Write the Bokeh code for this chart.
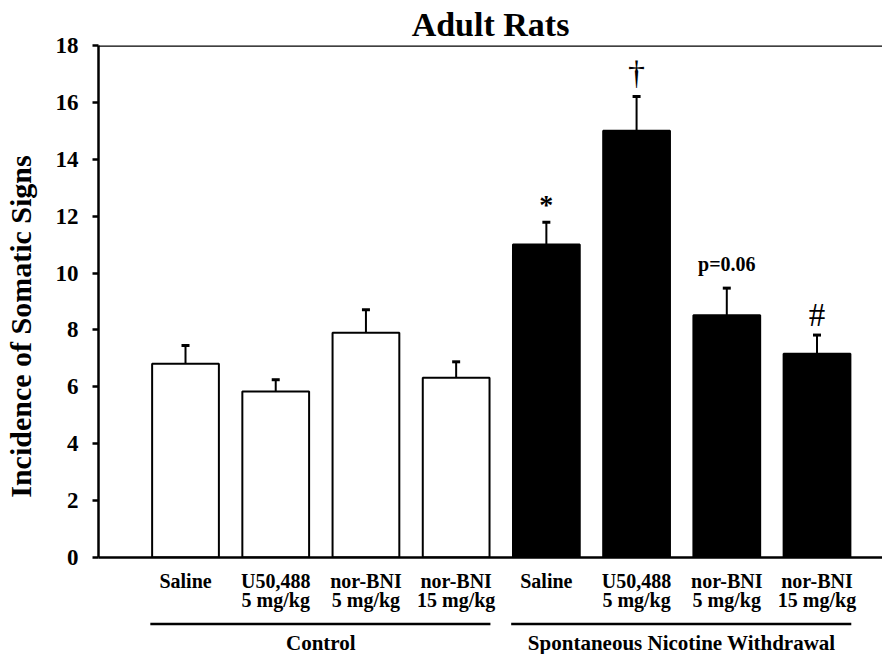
import math
from bokeh.plotting import figure
from bokeh.layouts import column, row
from bokeh.models import Range1d, FixedTicker, Whisker, TeeHead, Span, ColumnDataSource
from bokeh.core.properties import value
from bokeh.embed import file_html
from bokeh.resources import INLINE

# ---------------- data ----------------
categories = ["Saline", "U50,488\n5 mg/kg", "nor-BNI\n5 mg/kg", "nor-BNI\n15 mg/kg",
              "Saline", "U50,488\n5 mg/kg", "nor-BNI\n5 mg/kg", "nor-BNI\n15 mg/kg"]
means = [6.81, 5.84, 7.90, 6.32, 11.00, 15.00, 8.52, 7.16]
sems = [0.64, 0.41, 0.81, 0.56, 0.79, 1.21, 0.95, 0.66]
group_of = [0, 0, 0, 0, 1, 1, 1, 1]
groups = ["Control", "Spontaneous Nicotine Withdrawal"]
marks = ["", "", "", "", "*", "\u2020", "p=0.06", "#"]
y_ticks = [0, 2, 4, 6, 8, 10, 12, 14, 16, 18]
title_text = "Adult Rats"
y_label_text = "Incidence of Somatic Signs"

FONT = "Liberation Serif"
xs = list(range(1, len(means) + 1))
fills = ["white" if g == 0 else "black" for g in group_of]
uppers = [m + s for m, s in zip(means, sems)]

y_range = Range1d(0, 18)
x_range = Range1d(0.0355, 8.726)

MAIN_W, MAIN_H, STRIP_H, YLAB_W = 832, 616, 38, 50
TOP, BOTTOM, LEFT = 45, 59, 48

# ---------------- main plot ----------------
p = figure(width=MAIN_W, height=MAIN_H, x_range=x_range, y_range=y_range,
           output_backend="svg", toolbar_location=None,
           min_border_left=LEFT, min_border_right=0, min_border_top=TOP,
           min_border_bottom=BOTTOM)
p.outline_line_color = None
p.xgrid.visible = False
p.ygrid.visible = False

p.title.text = title_text
p.title.text_font = FONT
p.title.text_font_size = "34px"
p.title.text_font_style = "bold"
p.title.text_color = "black"
p.title.align = "center"
p.title.standoff = 5

src = ColumnDataSource(dict(x=xs, top=means, upper=uppers, fill=fills))
p.vbar(x="x", top="top", bottom=0, width=0.74, source=src, fill_color="fill",
       line_color="black", line_width=2)

wh = Whisker(base="x", lower="top", upper="upper", source=src,
             upper_head=TeeHead(size=8, line_width=3, line_color="black"),
             lower_head=None, line_width=2, line_color="black")
p.add_layout(wh)

p.add_layout(Span(location=y_ticks[-1], dimension="width", line_color="black",
                  line_width=2.5))

p.yaxis.ticker = FixedTicker(ticks=y_ticks)
p.yaxis.minor_tick_line_color = None
p.yaxis.major_tick_in = 0
p.yaxis.major_tick_out = 6
p.yaxis.major_tick_line_width = 2.5
p.yaxis.axis_line_width = 2.5
p.yaxis.major_label_text_font = FONT
p.yaxis.major_label_text_font_style = "bold"
p.yaxis.major_label_text_font_size = "23px"
p.yaxis.major_label_text_color = "black"
p.yaxis.major_label_standoff = 14

p.xaxis.ticker = FixedTicker(ticks=xs)
p.xaxis.major_label_overrides = {x: c for x, c in zip(xs, categories)}
p.xaxis.minor_tick_line_color = None
p.xaxis.major_tick_line_color = None
p.xaxis.major_tick_in = 0
p.xaxis.major_tick_out = 0
p.xaxis.axis_line_width = 2.5
p.xaxis.major_label_text_font = FONT
p.xaxis.major_label_text_font_style = "bold"
p.xaxis.major_label_text_font_size = "20px"
p.xaxis.major_label_text_line_height = 0.9
p.xaxis.major_label_text_color = "black"
p.xaxis.major_label_standoff = 12

# significance marks
mark_style = {
    "*": dict(size="28px", style="bold", off=-18),
    "\u2020": dict(size="34px", style="normal", off=-24),
    "p=0.06": dict(size="20px", style="bold", off=-24),
    "#": dict(size="33px", style="normal", off=-20),
}
for x, u, mk in zip(xs, uppers, marks):
    if not mk:
        continue
    st = mark_style[mk]
    p.text(x=[x], y=[u], text=[mk], text_font=value(FONT),
           text_font_size=st["size"], text_font_style=st["style"],
           text_align="center", text_baseline="alphabetic",
           y_offset=st["off"], text_color="black")

# ---------------- y label strip ----------------
ylab = figure(width=YLAB_W, height=MAIN_H, x_range=Range1d(0, YLAB_W), y_range=y_range,
              output_backend="svg", toolbar_location=None,
              min_border_left=0, min_border_right=0, min_border_top=TOP,
              min_border_bottom=BOTTOM, x_axis_type=None, y_axis_type=None)
ylab.outline_line_color = None
ylab.xgrid.visible = False
ylab.ygrid.visible = False
ylab.text(x=[20], y=[8.12], text=[y_label_text], angle=math.pi / 2,
          text_font=value(FONT), text_font_size="30px", text_font_style="bold",
          text_align="center", text_baseline="middle", text_color="black")

# ---------------- group strip ----------------
p2 = figure(width=MAIN_W, height=STRIP_H, x_range=x_range, y_range=Range1d(0, STRIP_H),
            output_backend="svg", toolbar_location=None,
            min_border_left=LEFT, min_border_right=0, min_border_top=0,
            min_border_bottom=0, x_axis_type=None, y_axis_type=None)
p2.outline_line_color = None
p2.xgrid.visible = False
p2.ygrid.visible = False
for gi, g in enumerate(groups):
    members = [x for x, gg in zip(xs, group_of) if gg == gi]
    x0, x1 = min(members) - 0.39, max(members) + 0.38
    p2.segment(x0=[x0], y0=[STRIP_H - 7.5], x1=[x1], y1=[STRIP_H - 7.5],
               line_color="black", line_width=2.5)
    p2.text(x=[(min(members) + max(members)) / 2], y=[12], text=[g],
            text_font=value(FONT), text_font_size="21px", text_font_style="bold",
            text_align="center", text_baseline="middle", text_color="black")

layout = row(ylab, column(p, p2, spacing=0), spacing=0)
open("out.html", "w").write(file_html(layout, INLINE))
